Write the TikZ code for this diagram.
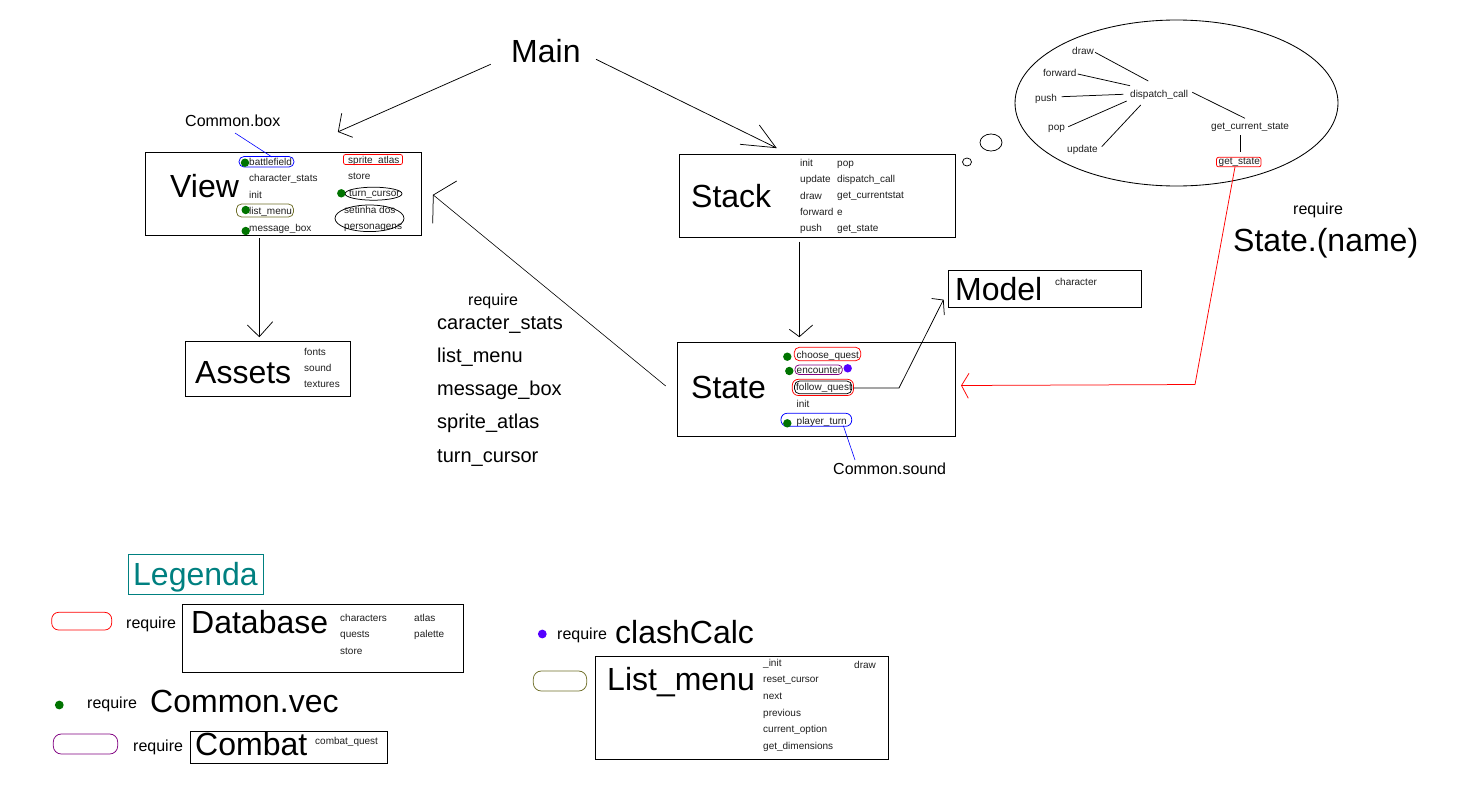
\documentclass[tikz,border=0pt]{standalone}
\usepackage{fontspec}
\setmainfont{Liberation Sans}
\definecolor{vgreen}{RGB}{0,115,0}
\definecolor{violetb}{RGB}{85,0,255}
\definecolor{olivec}{RGB}{110,110,40}
\definecolor{purplec}{RGB}{128,0,128}
\definecolor{tealc}{RGB}{0,128,128}
\definecolor{smtext}{RGB}{30,30,30}
\tikzset{
  big/.style={font=\fontsize{32}{36}\selectfont, anchor=base west, inner sep=0pt},
  mid/.style={font=\fontsize{20}{24}\selectfont, anchor=base west, inner sep=0pt},
  req/.style={font=\fontsize{16}{19}\selectfont, anchor=base west, inner sep=0pt},
  sm/.style={font=\fontsize{10}{12}\selectfont, anchor=base west, inner sep=0pt, text=smtext},
  modbox/.style={draw, line width=0.9pt, anchor=north west, inner sep=0pt},
  conn/.style={line width=0.75pt},
  gdot/.style={fill=vgreen},
  frame/.style={line width=0.75pt, rounded corners=5pt}
}
\begin{document}
\begin{tikzpicture}[x=1pt,y=-1pt]
\useasboundingbox (0,0) rectangle (1482,795);

% ---------- boxes ----------
\node[modbox, minimum width=276pt, minimum height=83pt] (viewbox) at (145,152) {};
\node[modbox, minimum width=276pt, minimum height=83pt] (stackbox) at (679,154) {};
\node[modbox, minimum width=165pt, minimum height=55pt] (assetsbox) at (185,341) {};
\node[modbox, minimum width=278pt, minimum height=94pt] (statebox) at (677,342) {};
\node[modbox, minimum width=193pt, minimum height=37pt] (modelbox) at (948,270) {};
\node[modbox, minimum width=281pt, minimum height=68pt] (dbbox) at (182,604) {};
\node[modbox, minimum width=197pt, minimum height=32pt] (combatbox) at (190,731) {};
\node[modbox, minimum width=293pt, minimum height=103pt] (lmbox) at (595,656) {};
\node[modbox, draw=tealc, minimum width=135pt, minimum height=40pt] (legbox) at (128,554) {};

% ---------- big titles ----------
\node[big] (main) at (511,62) {Main};
\node[big] (view) at (170,197) {View};
\node[big] (stack) at (691,207) {Stack};
\node[big] (state) at (691,398) {State};
\node[big] (assets) at (195,383) {Assets};
\node[big] (model) at (955,300) {Model};
\node[big, text=tealc] (legenda) at (133,585) {Legenda};
\node[big] (database) at (191,633) {Database};
\node[big] (commonvec) at (150,712) {Common.vec};
\node[big] (combat) at (195,755) {Combat};
\node[big] (listmenu) at (607,690) {List\_menu};
\node[big] (clash) at (615,643) {clashCalc};
\node[big] (statename) at (1233,251) {State.(name)};

% ---------- medium / require labels ----------
\node[req] (commonbox) at (185,126) {Common.box};
\node[req] (commonsound) at (833,474) {Common.sound};
\node[req] (reqview) at (468,305) {require};
\node[mid] (r1) at (437,329) {caracter\_stats};
\node[mid] (r2) at (437,362) {list\_menu};
\node[mid] (r3) at (437,395) {message\_box};
\node[mid] (r4) at (437,428) {sprite\_atlas};
\node[mid] (r5) at (437,462) {turn\_cursor};
\node[req] (reqstate) at (1293,214) {require};
\node[req] (reqdb) at (126,628) {require};
\node[req] (reqvec) at (87,708) {require};
\node[req] (reqcombat) at (133,751) {require};
\node[req] (reqclash) at (557,639) {require};

% ---------- View contents ----------
\node[sm] (vbattle) at (249,165) {battlefield};
\node[sm] (vchar) at (249,181.5) {character\_stats};
\node[sm] (vinit) at (249,198) {init};
\node[sm] (vlist) at (249,214.5) {list\_menu};
\node[sm] (vmsg) at (249,231) {message\_box};
\node[sm] (vsprite) at (348,163.5) {sprite\_atlas};
\node[sm] (vstore) at (348,179) {store};
\node[sm] (vturn) at (349,196) {turn\_cursor};
\node[sm] (vset1) at (344,213) {setinha dos};
\node[sm] (vset2) at (344,229) {personagens};
\draw[frame, blue] (239,156.5) rectangle (294,167);
\draw[frame, olivec] (236.5,204) rectangle (293.5,217);
\draw[frame, red, rounded corners=2pt] (343.5,154.5) rectangle (402.5,164.5);
\draw[line width=0.75pt] (373.5,193.7) ellipse [x radius=28.5, y radius=6.5];
\draw[line width=0.75pt] (369.5,218.3) ellipse [x radius=34.5, y radius=13.3];
\fill[gdot] (245,162.7) circle (4.2);
\fill[gdot] (245.7,210) circle (4.2);
\fill[gdot] (245.7,231) circle (4.2);
\fill[gdot] (341.3,193.3) circle (4.2);
\coordinate (cbend) at (272,157);
\draw[blue, line width=0.6pt] (235,133) -- (cbend);

% ---------- Stack contents ----------
\node[sm] (sinit) at (800,166.7) {init};
\node[sm] (supd) at (800,182.7) {update};
\node[sm] (sdraw) at (800,199.3) {draw};
\node[sm] (sfwd) at (800,215) {forward};
\node[sm] (spush) at (800,231.5) {push};
\node[sm] (spop) at (837,166.7) {pop};
\node[sm] (sdisp) at (837,182.7) {dispatch\_call};
\node[sm] (sgcs) at (837,198.5) {get\_currentstat};
\node[sm] (se) at (837,215) {e};
\node[sm] (sgs) at (837,231) {get\_state};

% ---------- thought bubbles ----------
\draw[line width=0.75pt] (967,162) ellipse [x radius=4.5, y radius=4];
\draw[line width=0.75pt] (991,142.5) ellipse [x radius=11, y radius=8.5];
\draw[line width=0.85pt] (1176.5,103) ellipse [x radius=161.5, y radius=83];
\node[sm] (edraw) at (1072,54) {draw};
\node[sm] (efwd) at (1043,76) {forward};
\node[sm] (epush) at (1035,101) {push};
\node[sm] (epop) at (1048,130.5) {pop};
\node[sm] (eupd) at (1067,152) {update};
\node[sm] (edisp) at (1130,97) {dispatch\_call};
\node[sm] (egcs) at (1211,129.5) {get\_current\_state};
\node[sm] (egs) at (1218.5,164.5) {get\_state};
\draw[frame, red, rounded corners=2pt] (1216.5,157.3) rectangle (1261,166.8);
\coordinate (d1a) at (1095,52.3);   \coordinate (d1b) at (1148.3,81);
\coordinate (d2a) at (1077.7,74);   \coordinate (d2b) at (1130,85.7);
\coordinate (d3a) at (1061.7,96.7); \coordinate (d3b) at (1123.3,94.3);
\coordinate (d4a) at (1068.3,126.7);\coordinate (d4b) at (1126.7,101);
\coordinate (d5a) at (1101.7,146.7);\coordinate (d5b) at (1140.7,105);
\coordinate (d6a) at (1192.3,92.3); \coordinate (d6b) at (1245,118.3);
\coordinate (d7a) at (1240.7,135);  \coordinate (d7b) at (1240.7,152.3);
\foreach \p in {1,...,7} {\draw[conn] (d\p a) -- (d\p b);}

% ---------- State contents ----------
\node[sm] (tchoose) at (796.5,358.5) {choose\_quest};
\node[sm] (tenc) at (796.5,373.5) {encounter};
\node[sm] (tfollow) at (796,390.5) {follow\_quest};
\node[sm] (tinit) at (796.5,407.3) {init};
\node[sm] (tplayer) at (796.5,424) {player\_turn};
\draw[frame, red] (794.3,347.3) rectangle (860.7,360.7);
\draw[frame, purplec, rounded corners=4pt] (795,365) rectangle (842.3,374.5);
\draw[frame, red, rounded corners=6pt] (792.3,379.3) rectangle (853.5,395.5);
\draw[frame, rounded corners=5pt] (794.5,381) rectangle (851.8,393.8);
\draw[frame, blue, rounded corners=6pt] (781,413.3) rectangle (851.7,426.3);
\fill[gdot] (787.3,356.7) circle (4.2);
\fill[gdot] (789.3,371) circle (4.2);
\fill[gdot] (787.3,423.3) circle (4.2);
\fill[violetb] (847.7,368.3) circle (4.2);
\coordinate (psnd) at (843.3,425.7);
\coordinate (psndend) at (855,460);
\draw[blue, line width=0.6pt] (psnd) -- (psndend);

% ---------- Assets, Model ----------
\node[sm] (afonts) at (304,355.7) {fonts};
\node[sm] (asound) at (304,371) {sound};
\node[sm] (atext) at (304,387.7) {textures};
\node[sm] (mchar) at (1055,285) {character};

% ---------- legend contents ----------
\node[sm] (dbc) at (340,621.7) {characters};
\node[sm] (dbq) at (340,637) {quests};
\node[sm] (dbs) at (340,654.3) {store};
\node[sm] (dba) at (414,621) {atlas};
\node[sm] (dbp) at (414,637) {palette};
\node[sm] (cq) at (315,744) {combat\_quest};
\node[sm] (lm1) at (763,666.7) {\_init};
\node[sm] (lm2) at (763,682.7) {reset\_cursor};
\node[sm] (lm3) at (763,699.3) {next};
\node[sm] (lm4) at (763,716) {previous};
\node[sm] (lm5) at (763,732.3) {current\_option};
\node[sm] (lm6) at (763,749.3) {get\_dimensions};
\node[sm] (lmd) at (854,668.3) {draw};
\draw[frame, red, rounded corners=7pt] (51.7,612.3) rectangle (111.7,630);
\draw[frame, purplec, rounded corners=8pt] (53.3,734) rectangle (117.7,754);
\draw[frame, olivec, rounded corners=8pt] (533.3,671) rectangle (586.7,691);
\fill[gdot] (59.3,705) circle (4.4);
\fill[violetb] (542.3,634) circle (4.4);

% ---------- connectors ----------
% Main -> View
\coordinate (mv0) at (490.7,64.3); \coordinate (mvt) at (338.3,131.7);
\draw[conn] (mv0) -- (mvt);
\draw[conn] (341.7,113.3) -- (mvt) -- (352.7,137.3);
% Main -> Stack
\coordinate (ms0) at (596,59.3); \coordinate (mst) at (776,147.7);
\draw[conn] (ms0) -- (mst);
\draw[conn] (759.3,125) -- (mst) -- (740,144.3);
% View -> Assets
\coordinate (va0) at (259.3,238); \coordinate (vat) at (259.3,336.7);
\draw[conn] (va0) -- (vat);
\draw[conn] (247.3,325) -- (vat) -- (272.7,321.7);
% Stack -> State
\coordinate (st0) at (799.3,241.5); \coordinate (stt) at (799.3,336.7);
\draw[conn] (st0) -- (stt);
\draw[conn] (789.3,329.3) -- (stt) -- (812.7,325);
% State -> View
\coordinate (sv0) at (665.7,386); \coordinate (svt) at (433.3,195);
\draw[line width=0.6pt] (sv0) -- (svt);
\draw[conn] (456.7,181) -- (svt) -- (432.7,223.3);
% follow_quest -> Model
\coordinate (fq0) at (853.5,388); \coordinate (fqb) at (899,388); \coordinate (fqt) at (943.3,300);
\draw[conn] (fq0) -- (fqb) -- (fqt);
\draw[conn] (931.7,298.5) -- (fqt) -- (944.3,315);
% get_state -> State (red)
\coordinate (gs0) at (1235,166.8); \coordinate (gsb) at (1195,384.5); \coordinate (gst) at (961.5,385.5);
\draw[red, line width=0.75pt] (gs0) -- (gsb) -- (gst);
\draw[red, line width=0.75pt] (969,373.3) -- (gst) -- (968.3,398.3);
\end{tikzpicture}
\end{document}
